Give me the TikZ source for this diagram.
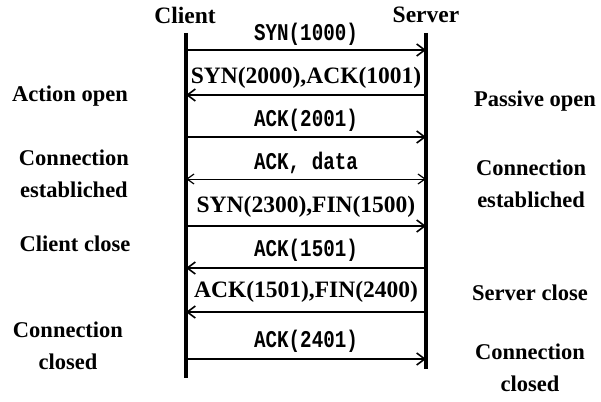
\documentclass[tikz,border=0pt]{standalone}
\usepackage{fontspec}
\setmainfont{Liberation Serif}
\newfontfamily\monofnt[FakeStretch=0.8]{Liberation Mono}
\usetikzlibrary{arrows.meta}
\begin{document}
\begin{tikzpicture}[x=1pt,y=-1pt,
  life/.style={line width=3.5pt},
  msg/.style={line width=1.6pt,-{Straight Barb[length=8pt,width=12pt,line width=1.6pt]}},
  bmsg/.style={line width=1pt,{Straight Barb[length=7pt,width=10pt,line width=1.2pt]}-{Straight Barb[length=7pt,width=10pt,line width=1.2pt]}},
  lab/.style={font=\fontsize{23.5}{26}\selectfont\bfseries, inner sep=0pt},
  mlab/.style={font=\fontsize{24}{26}\selectfont\monofnt\bfseries, inner sep=0pt},
  side/.style={font=\fontsize{22.5}{32}\selectfont\bfseries, align=center, inner sep=0pt}]
\useasboundingbox (0,0) rectangle (601,401);
\node[lab] (cl) at (185,15) {Client};
\node[lab] (sv) at (426,15) {Server};
\coordinate (ct) at (186,33); \coordinate (cb) at (186,378);
\coordinate (st) at (426,33); \coordinate (sb) at (426,369);
\draw[life] (ct) -- (cb);
\draw[life] (st) -- (sb);
% messages
\coordinate (c1) at (186,50); \coordinate (s1) at (426,50);
\coordinate (c2) at (186,95); \coordinate (s2) at (426,95);
\coordinate (c3) at (186,137); \coordinate (s3) at (426,137);
\coordinate (c4) at (186,179); \coordinate (s4) at (426,179);
\coordinate (c5) at (186,226); \coordinate (s5) at (426,226);
\coordinate (c6) at (186,268); \coordinate (s6) at (426,268);
\coordinate (c7) at (186,312); \coordinate (s7) at (426,312);
\coordinate (c8) at (186,359); \coordinate (s8) at (426,359);
\draw[msg] (c1) -- (s1);
\draw[msg] (s2) -- (c2);
\draw[msg] (c3) -- (s3);
\draw[bmsg] (c4) -- (s4);
\draw[msg] (c5) -- (s5);
\draw[msg] (s6) -- (c6);
\draw[msg] (s7) -- (c7);
\draw[msg] (c8) -- (s8);
\node[mlab] (m1) at (306,34) {SYN(1000)};
\node[lab] (m2) at (306,78) {SYN(2000),ACK(1001)};
\node[mlab] (m3) at (306,120) {ACK(2001)};
\node[mlab] (m4) at (306,163) {ACK, data};
\node[lab] (m5) at (306,207) {SYN(2300),FIN(1500)};
\node[mlab] (m6) at (306,250) {ACK(1501)};
\node[lab] (m7) at (306,292) {ACK(1501),FIN(2400)};
\node[mlab] (m8) at (306,341) {ACK(2401)};
% side labels
\node[side] (l1) at (70,96) {Action open};
\node[side] (l2) at (74,174) {Connection\\establiched};
\node[side] (l3) at (75,244) {Client close};
\node[side] (l4) at (68,346) {Connection\\closed};
\node[side] (r1) at (535,101) {Passive open};
\node[side] (r2) at (531,184) {Connection\\establiched};
\node[side] (r3) at (530,293) {Server close};
\node[side] (r4) at (530,368) {Connection\\closed};
\end{tikzpicture}
\end{document}
